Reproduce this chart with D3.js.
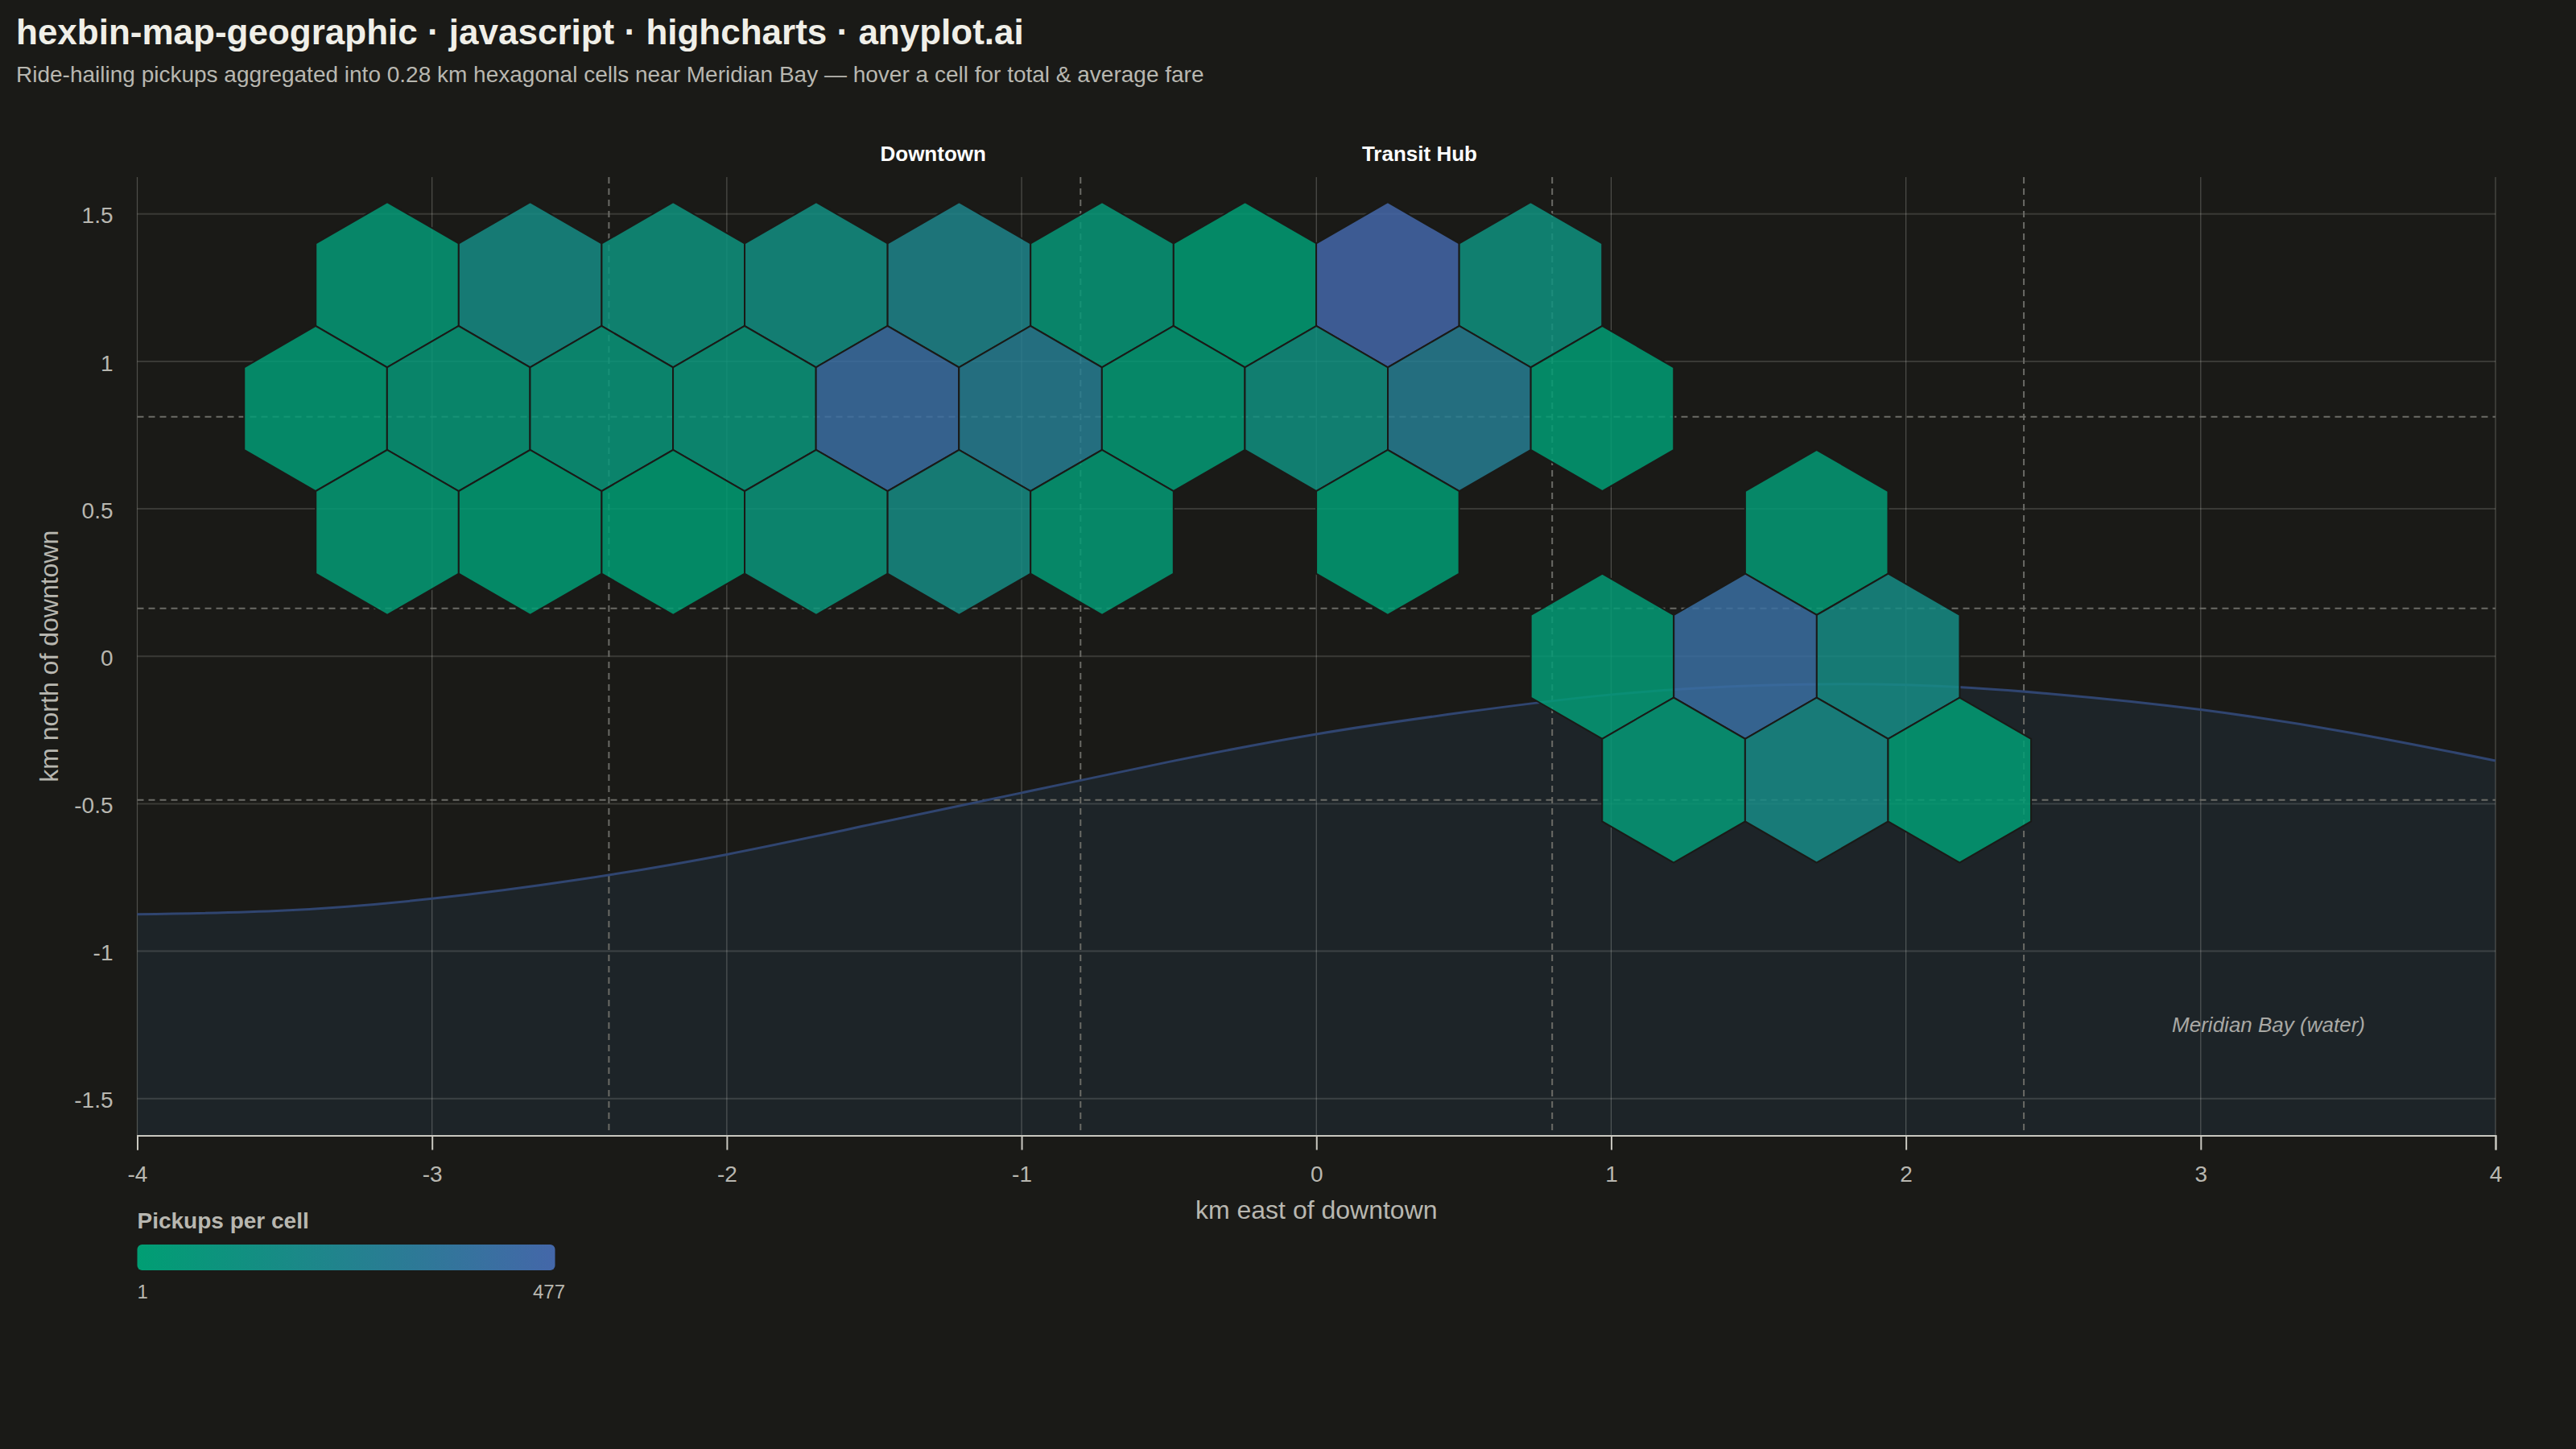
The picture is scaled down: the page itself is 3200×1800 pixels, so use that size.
<!DOCTYPE html>
<html lang="en">

<head>
	<meta charset="utf-8">
	<title>hexbin-map-geographic</title>
	<script src="https://d3js.org/d3.v7.min.js"></script>
	<style type="text/css">
		html, body { margin: 0; padding: 0; background: #1a1a17; }
		svg { display: block; }
		text { font-family: "Liberation Sans", Arial, sans-serif; }
	</style>
</head>

<body>
	<svg id="chart" width="3200" height="1800"></svg>

	<script type="text/javascript">
	// hexagon cells, km from downtown
	var cellEast = [
		-3.152, -2.667, -2.182, -1.697, -1.212, -0.727, -0.242, 0.242, 0.727,
		-3.395, -2.910, -2.425, -1.940, -1.455, -0.970, -0.485, 0, 0.485, 0.970,
		-3.152, -2.667, -2.182, -1.697, -1.212, -0.727, 0.242, 1.697,
		0.970, 1.455, 1.940,
		1.212, 1.697, 2.182
	]
	var cellNorth = [
		1.26, 1.26, 1.26, 1.26, 1.26, 1.26, 1.26, 1.26, 1.26,
		0.84, 0.84, 0.84, 0.84, 0.84, 0.84, 0.84, 0.84, 0.84, 0.84,
		0.42, 0.42, 0.42, 0.42, 0.42, 0.42, 0.42, 0.42,
		0, 0, 0,
		-0.42, -0.42, -0.42
	]
	var cellPickups = [
		39, 158, 96, 134, 215, 49, 11, 477, 106,
		15, 49, 63, 68, 415, 277, 25, 115, 277, 11,
		20, 11, 1, 72, 153, 30, 11, 25,
		25, 406, 158,
		34, 168, 11
	]

	// shoreline of the bay
	var shoreEast = [-4, -3.5, -3, -2.5, -2, -1.5, -1, -0.5, 0, 0.5, 1, 1.5, 2, 2.5, 3, 3.5, 4]
	var shoreNorth = [-0.875, -0.862, -0.822, -0.757, -0.672, -0.568, -0.463, -0.358, -0.264, -0.19, -0.13, -0.099, -0.097, -0.128, -0.181, -0.258, -0.354]

	// street lines
	var streetEast = [-2.4, -0.8, 0.8, 2.4]
	var streetNorth = [0.8125, 0.1625, -0.4875]

	var xTicks = [-4, -3, -2, -1, 0, 1, 2, 3, 4]
	var yTicks = [-1.5, -1, -0.5, 0, 0.5, 1, 1.5]

	var placeNames = ["Downtown", "Transit Hub"]
	var placeEast = [-1.30, 0.35]

	var hexRadius = 0.28
	var pickupDomain = [1, 477]

	// colors
	var bg = "#1a1a17"
	var inkStrong = "#f0efe8"
	var inkSoft = "#b8b7b0"
	var axisColor = "#c9c8c0"
	var gridH = "rgba(240,239,232,0.15)"
	var gridV = "rgba(240,239,232,0.25)"
	var streetColor = "#6b6b66"
	var waterFill = "#1d2428"
	var shoreStroke = "#304570"
	var colorLow = "#009e73"
	var colorHigh = "#4467a9"

	// layout
	var plot = {left: 170.5, right: 3100, top: 220, bottom: 1410.5}

	var xScale = d3.scaleLinear().domain([-4, 4]).range([plot.left, plot.right])
	var yScale = d3.scaleLinear().domain([-1.625, 1.625]).range([plot.bottom, plot.top])
	var colorScale = d3.scaleLinear().domain(pickupDomain).range([colorLow, colorHigh]).interpolate(d3.interpolateRgb)

	var svg = d3.select("#chart")

	svg.append("rect")
		.attr("width", 3200)
		.attr("height", 1800)
		.attr("fill", bg)

	// gradient for the legend
	var grad = svg.append("defs").append("linearGradient").attr("id", "legendGrad")
	grad.append("stop").attr("offset", "0%").attr("stop-color", colorLow)
	grad.append("stop").attr("offset", "100%").attr("stop-color", colorHigh)

	// title block
	svg.append("text")
		.attr("x", 20).attr("y", 55)
		.attr("font-size", 44).attr("font-weight", "bold")
		.attr("fill", inkStrong)
		.text("hexbin-map-geographic · javascript · highcharts · anyplot.ai")

	svg.append("text")
		.attr("x", 20).attr("y", 102)
		.attr("font-size", 28)
		.attr("fill", inkSoft)
		.text("Ride-hailing pickups aggregated into 0.28 km hexagonal cells near Meridian Bay — hover a cell for total & average fare")

	// water
	var shorePoints = shoreEast.map((d, i) => [d, shoreNorth[i]])

	var waterArea = d3.area()
		.x(d => xScale(d[0]))
		.y0(plot.bottom)
		.y1(d => yScale(d[1]))
		.curve(d3.curveNatural)

	svg.append("path")
		.attr("d", waterArea(shorePoints))
		.attr("fill", waterFill)

	// grid
	svg.append("g").selectAll("line")
		.data(xTicks)
		.enter()
		.append("line")
		.attr("x1", d => xScale(d)).attr("x2", d => xScale(d))
		.attr("y1", plot.top).attr("y2", plot.bottom)
		.attr("stroke", gridV)
		.attr("stroke-width", 1.2)

	svg.append("g").selectAll("line")
		.data(yTicks)
		.enter()
		.append("line")
		.attr("x1", plot.left).attr("x2", plot.right)
		.attr("y1", d => yScale(d)).attr("y2", d => yScale(d))
		.attr("stroke", gridH)
		.attr("stroke-width", 2)

	// streets
	svg.append("g").selectAll("line")
		.data(streetEast)
		.enter()
		.append("line")
		.attr("x1", d => xScale(d)).attr("x2", d => xScale(d))
		.attr("y1", plot.top).attr("y2", plot.bottom)
		.attr("stroke", streetColor)
		.attr("stroke-width", 2)
		.attr("stroke-dasharray", "8,6")

	svg.append("g").selectAll("line")
		.data(streetNorth)
		.enter()
		.append("line")
		.attr("x1", plot.left).attr("x2", plot.right)
		.attr("y1", d => yScale(d)).attr("y2", d => yScale(d))
		.attr("stroke", streetColor)
		.attr("stroke-width", 2)
		.attr("stroke-dasharray", "8,6")

	// shoreline
	var shoreLine = d3.line()
		.x(d => xScale(d[0]))
		.y(d => yScale(d[1]))
		.curve(d3.curveNatural)

	svg.append("path")
		.attr("d", shoreLine(shorePoints))
		.attr("fill", "none")
		.attr("stroke", shoreStroke)
		.attr("stroke-width", 3)

	// hexagons, pointy side up
	var hexAngles = d3.range(6).map(i => Math.PI / 6 + i * Math.PI / 3)

	function hexPath(east, north) {
		var pts = hexAngles.map(a => [
			xScale(east + hexRadius * Math.cos(a)),
			yScale(north + hexRadius * Math.sin(a))
		])
		return d3.line()(pts) + "Z"
	}

	svg.append("g").selectAll("path")
		.data(cellPickups)
		.enter()
		.append("path")
		.attr("d", (d, i) => hexPath(cellEast[i], cellNorth[i]))
		.attr("fill", d => colorScale(d))
		.attr("fill-opacity", 0.85)
		.attr("stroke", bg)
		.attr("stroke-width", 2)

	// place labels sit above the plot
	svg.append("g").selectAll("text")
		.data(placeNames)
		.enter()
		.append("text")
		.attr("x", (d, i) => xScale(placeEast[i]))
		.attr("y", 200)
		.attr("text-anchor", "middle")
		.attr("font-size", 26)
		.attr("font-weight", "bold")
		.attr("fill", "#ffffff")
		.text(d => d)

	svg.append("text")
		.attr("x", xScale(3.23)).attr("y", 1282)
		.attr("text-anchor", "middle")
		.attr("font-size", 26)
		.attr("font-style", "italic")
		.attr("fill", "#a9a9a5")
		.text("Meridian Bay (water)")

	// axes
	var xAxis = d3.axisBottom(xScale)
		.tickValues(xTicks)
		.tickFormat(d => String(d))
		.tickSize(18)
		.tickPadding(20)

	var xG = svg.append("g")
		.attr("transform", "translate(0," + plot.bottom + ")")
		.call(xAxis)
	xG.select(".domain").attr("stroke", axisColor).attr("stroke-width", 2)
	xG.selectAll(".tick line").attr("stroke", axisColor).attr("stroke-width", 2)
	xG.selectAll(".tick text")
		.attr("fill", inkSoft)
		.attr("font-size", 28)
		.attr("font-family", "Liberation Sans")

	var yAxis = d3.axisLeft(yScale)
		.tickValues(yTicks)
		.tickFormat(d => String(d))
		.tickSize(0)
		.tickPadding(30)

	var yG = svg.append("g")
		.attr("transform", "translate(" + plot.left + ",0)")
		.call(yAxis)
	yG.select(".domain").remove()
	yG.selectAll(".tick text")
		.attr("dy", "0.4em")
		.attr("fill", inkSoft)
		.attr("font-size", 28)
		.attr("font-family", "Liberation Sans")

	svg.append("text")
		.attr("x", xScale(0)).attr("y", 1514)
		.attr("text-anchor", "middle")
		.attr("font-size", 32)
		.attr("fill", inkSoft)
		.text("km east of downtown")

	svg.append("text")
		.attr("transform", "translate(72," + yScale(0) + ") rotate(-90)")
		.attr("text-anchor", "middle")
		.attr("font-size", 32)
		.attr("fill", inkSoft)
		.text("km north of downtown")

	// color legend
	svg.append("text")
		.attr("x", plot.left).attr("y", 1526)
		.attr("font-size", 28)
		.attr("font-weight", "bold")
		.attr("fill", inkSoft)
		.text("Pickups per cell")

	svg.append("rect")
		.attr("x", plot.left).attr("y", 1546)
		.attr("width", 519).attr("height", 32)
		.attr("rx", 6)
		.attr("fill", "url(#legendGrad)")

	svg.append("text")
		.attr("x", plot.left).attr("y", 1613)
		.attr("font-size", 24)
		.attr("fill", inkSoft)
		.text(pickupDomain[0])

	svg.append("text")
		.attr("x", 702).attr("y", 1613)
		.attr("text-anchor", "end")
		.attr("font-size", 24)
		.attr("fill", inkSoft)
		.text(pickupDomain[1])
	</script>
</body>
</html>
